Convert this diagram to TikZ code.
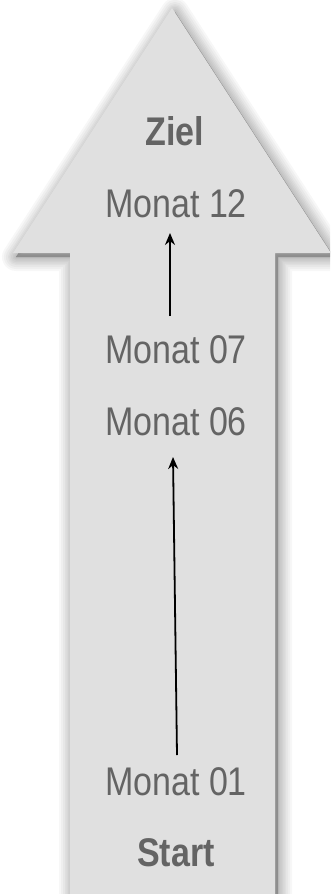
\documentclass[tikz,border=0pt]{standalone}
\usepackage{fontspec}
\setmainfont[FakeStretch=0.85]{Liberation Sans}
\usetikzlibrary{calc,arrows.meta}
\definecolor{arrowfill}{HTML}{E0E0E0}
\definecolor{txt}{HTML}{646464}
\tikzset{
  lbl/.style={font=\fontsize{40}{44}\selectfont, text=txt, anchor=base, inner sep=0pt},
  lblbold/.style={lbl, font=\fontsize{40}{44}\selectfont\bfseries},
  conn/.style={draw=black, line width=1.8pt, -{Stealth[length=12pt,width=10pt]}},
  shadowlayer/.style={fill=black, draw=black, fill opacity=0.03, draw opacity=0.03, line join=round}
}
\begin{document}
\begin{tikzpicture}[x=1pt,y=-1pt]
\useasboundingbox (0,0) rectangle (330,894);
\fill[white] (0,0) rectangle (330,894);
\begin{scope}
\clip (0,0) rectangle (330,894);
\def\arrowpath{(13,253) -- (172,8) -- (331,253) -- (275,253) -- (275,910) -- (70,910) -- (70,253) -- cycle}
\begin{scope}[shift={(3,4)}]
\foreach \w in {28,24,20,16,13,10,7,4,1}{
  \path[shadowlayer, line width=\w pt] \arrowpath;
}
\end{scope}
\fill[arrowfill] \arrowpath;
\end{scope}
\node[lblbold] (ziel) at (175,145) {Ziel};
\node[lbl] (m12) at (176,217) {Monat 12};
\node[lbl] (m07) at (176,363) {Monat 07};
\node[lbl] (m06) at (176,435) {Monat 06};
\node[lbl] (m01) at (176,795) {Monat 01};
\node[lblbold] (start) at (176,866) {Start};
\draw[conn] ($(m07.base)+(-6,-47)$) -- ($(m12.base)+(-6,16)$);
\draw[conn] ($(m01.base)+(1,-40)$) -- ($(m06.base)+(-3,22)$);
\end{tikzpicture}
\end{document}
